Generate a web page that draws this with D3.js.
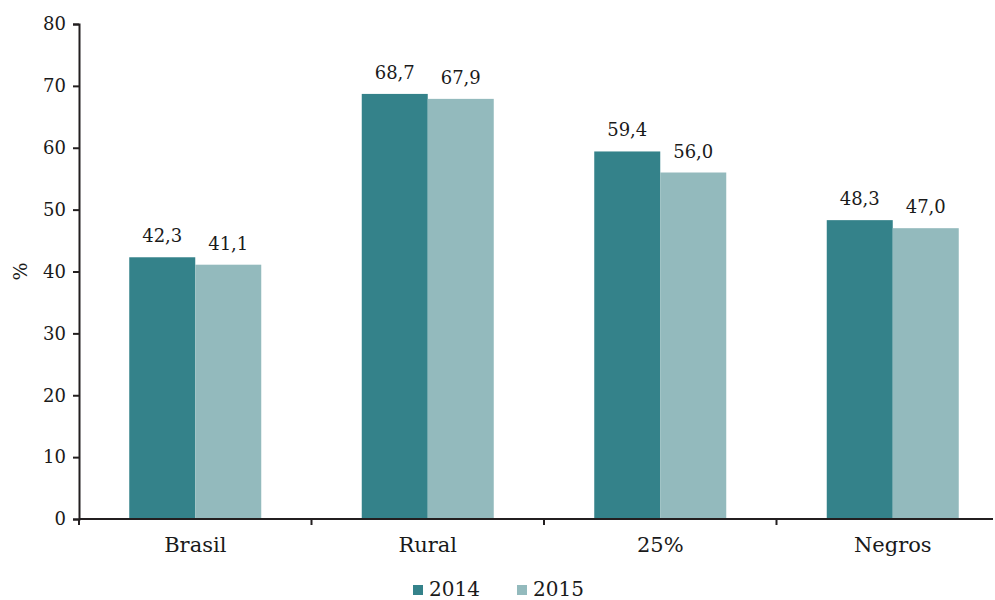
<!DOCTYPE html>
<html>
<head>
<meta charset="utf-8">
<script src="https://cdn.jsdelivr.net/npm/d3@7"></script>
<style>
  body { margin: 0; background: #fff; }
  text { font-family: "DejaVu Serif", serif; fill: #1a1a1a; }
</style>
</head>
<body>
<svg id="chart" width="995" height="600"></svg>
<script>
'use strict';

var categories = ["Brasil", "Rural", "25%", "Negros"];
var years = ["2014", "2015"];
var values2014 = [42.3, 68.7, 59.4, 48.3];
var values2015 = [41.1, 67.9, 56.0, 47.0];
var yTicks = [0, 10, 20, 30, 40, 50, 60, 70, 80];

var colors = { "2014": "#34828a", "2015": "#93babd" };

var WIDTH = 995, HEIGHT = 600;
var LEFT = 79, TOP = 24, BOTTOM = 519;
var BAND_END = 1009, AXIS_END = 993;
var GROUP_W = 132;

var svg = d3.select("#chart");

var x = d3.scaleBand()
  .domain(categories)
  .range([LEFT, BAND_END]);

var xInner = d3.scaleBand()
  .domain(years)
  .range([0, GROUP_W]);

var y = d3.scaleLinear()
  .domain([0, 80])
  .range([BOTTOM, TOP]);

var fmt = function(v){ return v.toFixed(1).replace(".", ","); };

var data = categories.map(function(c, i){
  return { cat: c, vals: [
    { year: "2014", v: values2014[i] },
    { year: "2015", v: values2015[i] }
  ]};
});

var groups = svg.append("g").selectAll("g")
  .data(data)
  .enter().append("g")
  .attr("transform", function(d){
    return "translate(" + (x(d.cat) + (x.bandwidth() - GROUP_W) / 2) + ",0)";
  });

groups.selectAll("rect")
  .data(function(d){ return d.vals; })
  .enter().append("rect")
  .attr("x", function(d){ return xInner(d.year); })
  .attr("y", function(d){ return y(d.v); })
  .attr("width", xInner.bandwidth())
  .attr("height", function(d){ return y(0) - y(d.v); })
  .attr("fill", function(d){ return colors[d.year]; });

groups.selectAll("text.val")
  .data(function(d){ return d.vals; })
  .enter().append("text")
  .attr("class", "val")
  .attr("x", function(d){ return xInner(d.year) + xInner.bandwidth() / 2; })
  .attr("y", function(d){ return y(d.v) - 15; })
  .attr("text-anchor", "middle")
  .style("font-size", "18px")
  .text(function(d){ return fmt(d.v); });

// y axis
var yAxis = svg.append("g")
  .attr("transform", "translate(" + LEFT + ",0)")
  .call(d3.axisLeft(y).tickValues(yTicks).tickSize(6).tickPadding(7));
yAxis.select(".domain").attr("stroke", "#231f20").attr("stroke-width", 2);
yAxis.selectAll(".tick line").attr("stroke", "#231f20").attr("stroke-width", 2);
yAxis.selectAll(".tick text").style("font-size", "18px").style("font-family", "DejaVu Serif").attr("fill", "#1a1a1a");

// x axis
var xAxis = svg.append("g")
  .attr("transform", "translate(0," + y(0) + ")")
  .call(d3.axisBottom(x).tickSize(0).tickPadding(18));
xAxis.select(".domain").remove();
xAxis.append("line")
  .attr("x1", LEFT).attr("x2", AXIS_END)
  .attr("stroke", "#231f20").attr("stroke-width", 2);
xAxis.selectAll(".tick text").style("font-size", "21px").style("font-family", "DejaVu Serif").attr("fill", "#1a1a1a");

// category separator ticks
xAxis.selectAll("line.sep")
  .data(categories)
  .enter().append("line")
  .attr("class", "sep")
  .attr("x1", function(d){ return x(d); })
  .attr("x2", function(d){ return x(d); })
  .attr("y1", 0)
  .attr("y2", 6)
  .attr("stroke", "#231f20")
  .attr("stroke-width", 2);

// y label
svg.append("text")
  .attr("transform", "translate(27," + ((TOP + BOTTOM) / 2) + ") rotate(-90)")
  .attr("text-anchor", "middle")
  .style("font-size", "19px")
  .text("%");

// legend
var legend = svg.append("g").attr("transform", "translate(413,585)");
var legItems = legend.selectAll("g")
  .data(years)
  .enter().append("g")
  .attr("transform", function(d, i){ return "translate(" + (i * 104) + ",0)"; });
legItems.append("rect")
  .attr("width", 10).attr("height", 10)
  .attr("fill", function(d){ return colors[d]; });
legItems.append("text")
  .attr("x", 16).attr("y", 11)
  .style("font-size", "20px")
  .text(function(d){ return d; });
</script>
</body>
</html>
